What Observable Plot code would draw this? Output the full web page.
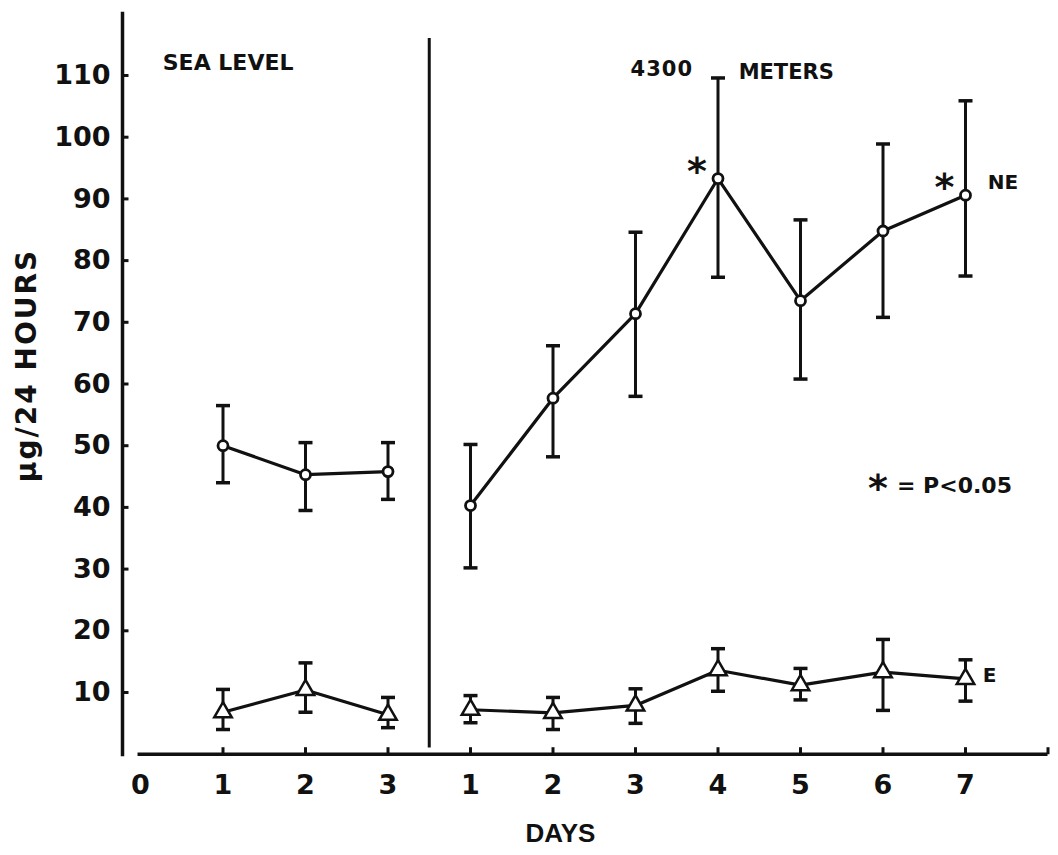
<!DOCTYPE html>
<html><head><meta charset="utf-8">
<script src="https://cdn.jsdelivr.net/npm/d3@7"></script>
<script src="https://cdn.jsdelivr.net/npm/@observablehq/plot@0.6"></script>
<style>body{margin:0;background:#fff;}</style>
</head><body><div id="chart"></div>
<script>
// ---- data ----
const seaDays = [1, 2, 3];
const altDays = [1, 2, 3, 4, 5, 6, 7];
// NE (norepinephrine), µg/24 h : mean, upper and lower error-bar ends
const neSea   = [50.0, 45.3, 45.8];
const neSeaHi = [56.5, 50.5, 50.5];
const neSeaLo = [44.0, 39.5, 41.3];
const neAlt   = [40.3, 57.7, 71.4, 93.3, 73.5, 84.8, 90.6];
const neAltHi = [50.2, 66.2, 84.6, 109.6, 86.6, 98.9, 105.9];
const neAltLo = [30.2, 48.2, 58.0, 77.3, 60.8, 70.8, 77.5];
// E (epinephrine)
const eSea   = [6.8, 10.4, 6.4];
const eSeaHi = [10.5, 14.8, 9.2];
const eSeaLo = [4.0, 6.8, 4.3];
const eAlt   = [7.2, 6.7, 7.9, 13.6, 11.2, 13.3, 12.2];
const eAltHi = [9.5, 9.2, 10.6, 17.1, 13.9, 18.6, 15.3];
const eAltLo = [5.1, 4.0, 5.0, 10.2, 8.8, 7.1, 8.6];
const significantAltDays = [4, 7];
const yTicks = [10, 20, 30, 40, 50, 60, 70, 80, 90, 100, 110];
const xTickLabels = ["0", "1", "2", "3", "1", "2", "3", "4", "5", "6", "7"];
const yTitle = "μg/24 HOURS";
const xTitle = "DAYS";
const seaLabel = "SEA LEVEL";
const altLabel1 = "4300";
const altLabel2 = "METERS";
const sigLabel = "= P<0.05";

// slot: sea-level day d -> d ; altitude day d -> 3 + d
const seaSlot = d => d;
const altSlot = d => 3 + d;

const rows = [];
function add(days, slotFn, v, hi, lo, series, phase) {
  days.forEach((d, i) => rows.push({slot: slotFn(d), v: v[i], hi: hi[i], lo: lo[i], series, g: series + "-" + phase}));
}
add(seaDays, seaSlot, neSea, neSeaHi, neSeaLo, "NE", "sea");
add(altDays, altSlot, neAlt, neAltHi, neAltLo, "NE", "alt");
add(seaDays, seaSlot, eSea, eSeaHi, eSeaLo, "E", "sea");
add(altDays, altSlot, eAlt, eAltHi, eAltLo, "E", "alt");
const caps = rows.flatMap(r => [{slot: r.slot, y: r.hi}, {slot: r.slot, y: r.lo}]);
const neAltRows = rows.filter(r => r.g === "NE-alt");
const sigRows = neAltRows.filter(r => significantAltDays.includes(r.slot - 3));

const capSym = {draw(ctx, size) { const r = Math.sqrt(size / Math.PI); ctx.moveTo(-r, 0); ctx.lineTo(r, 0); }};
const tickRightSym = {draw(ctx, size) { const r = Math.sqrt(size / Math.PI); ctx.moveTo(0, 0); ctx.lineTo(r, 0); }};
const tickUpSym = {draw(ctx, size) { const r = Math.sqrt(size / Math.PI); ctx.moveTo(0, 0); ctx.lineTo(0, -r); }};

const INK = "#111";
const FONT = "DejaVu Sans";
const xTickPos = d3.range(0, 11);

const chart = Plot.plot({
  width: 1058,
  height: 855,
  marginLeft: 122,
  marginRight: 10,
  marginTop: 13,
  marginBottom: 101,
  style: {fontFamily: FONT, background: "#fff", color: INK},
  x: {type: "linear", domain: [0, 11], range: [140, 1047.5]},
  y: {type: "linear", domain: [0, 120], range: [753.7, 13.3]},
  marks: [
    // y axis line and ticks
    Plot.frame({anchor: "left", stroke: INK, strokeWidth: 3.5}),
    Plot.dot(yTicks, {y: d => d, frameAnchor: "left", symbol: tickRightSym, r: 6, stroke: INK, strokeWidth: 3, fill: "none"}),
    Plot.axisY({ticks: yTicks, tickSize: 0, tickPadding: 12, fontSize: 27, fontWeight: "bold", fontFamily: FONT, fill: INK, label: null}),
    // x axis line, ticks and labels
    Plot.ruleY([0], {x1: -0.03, x2: 11, stroke: INK, strokeWidth: 3.5}),
    Plot.dot(xTickPos.slice(1).concat([11]), {x: d => d, y: 0, symbol: tickUpSym, r: 7, stroke: INK, strokeWidth: 3, fill: "none"}),
    Plot.axisX({ticks: xTickPos, tickFormat: d => xTickLabels[d], tickSize: 0, tickPadding: 20, fontSize: 27, fontWeight: "bold", fontFamily: FONT, fill: INK, label: null}),
    // divider between sea level and altitude
    Plot.ruleX([3.5], {y1: 1, y2: 116, stroke: INK, strokeWidth: 3}),
    // error bars
    Plot.ruleX(rows, {x: "slot", y1: "lo", y2: "hi", stroke: INK, strokeWidth: 3}),
    Plot.dot(caps, {x: "slot", y: "y", symbol: capSym, r: 7, stroke: INK, strokeWidth: 3.5, fill: "none"}),
    // series lines
    Plot.line(rows, {x: "slot", y: "v", z: "g", stroke: INK, strokeWidth: 3.2}),
    // markers
    Plot.dot(rows.filter(r => r.series === "NE"), {x: "slot", y: "v", r: 5, fill: "#fff", stroke: INK, strokeWidth: 2.8}),
    Plot.dot(rows.filter(r => r.series === "E"), {x: "slot", y: "v", symbol: "triangle", r: 6.5, fill: "#fff", stroke: INK, strokeWidth: 2.5}),
    // significance asterisks
    Plot.text(sigRows, {x: "slot", y: "v", text: () => "*", dx: -21, dy: -7, fontSize: 38, fontWeight: "bold", fontFamily: FONT, fill: INK}),
    // annotations
    Plot.text([seaLabel], {x: 0.27, y: 112.0, text: d => d, textAnchor: "start", fontSize: 22, fontWeight: "bold", fontFamily: FONT, fill: INK}),
    Plot.text([altLabel1], {x: 5.94, y: 111.0, text: d => d, textAnchor: "start", fontSize: 21, fontWeight: "bold", fontFamily: FONT, fill: INK}),
    Plot.text([altLabel2], {x: 7.25, y: 110.5, text: d => d, textAnchor: "start", fontSize: 21, fontWeight: "bold", fontFamily: FONT, fill: INK}),
    Plot.text(["NE"], {x: 10.27, y: 92.6, text: d => d, textAnchor: "start", fontSize: 20, fontWeight: "bold", fontFamily: FONT, fill: INK}),
    Plot.text(["E"], {x: 10.21, y: 12.8, text: d => d, textAnchor: "start", fontSize: 20, fontWeight: "bold", fontFamily: FONT, fill: INK}),
    Plot.text(["*"], {x: 8.94, y: 43.4, text: d => d, dy: 2, fontSize: 38, fontWeight: "bold", fontFamily: FONT, fill: INK}),
    Plot.text([sigLabel], {x: 9.17, y: 43.4, text: d => d, textAnchor: "start", fontSize: 22, fontWeight: "bold", fontFamily: FONT, fill: INK}),
    // axis titles
    Plot.text([xTitle], {x: 5.09, y: -12.85, text: d => d, fontSize: 26, fontWeight: "bold", fontFamily: "Liberation Sans", fill: INK}),
    Plot.text([yTitle], {y: 63, frameAnchor: "left", dx: -95, rotate: -90, textAnchor: "middle", text: d => d, fontSize: 28, fontWeight: "bold", fontFamily: FONT, fill: INK})
  ]
});
document.getElementById("chart").appendChild(chart);
// letter spacing tweaks
chart.querySelectorAll("text").forEach(t => {
  const s = t.textContent;
  if (s === altLabel1) t.setAttribute("letter-spacing", "1");
  if (s === yTitle) t.setAttribute("letter-spacing", "2");
});
</script>
</body></html>
